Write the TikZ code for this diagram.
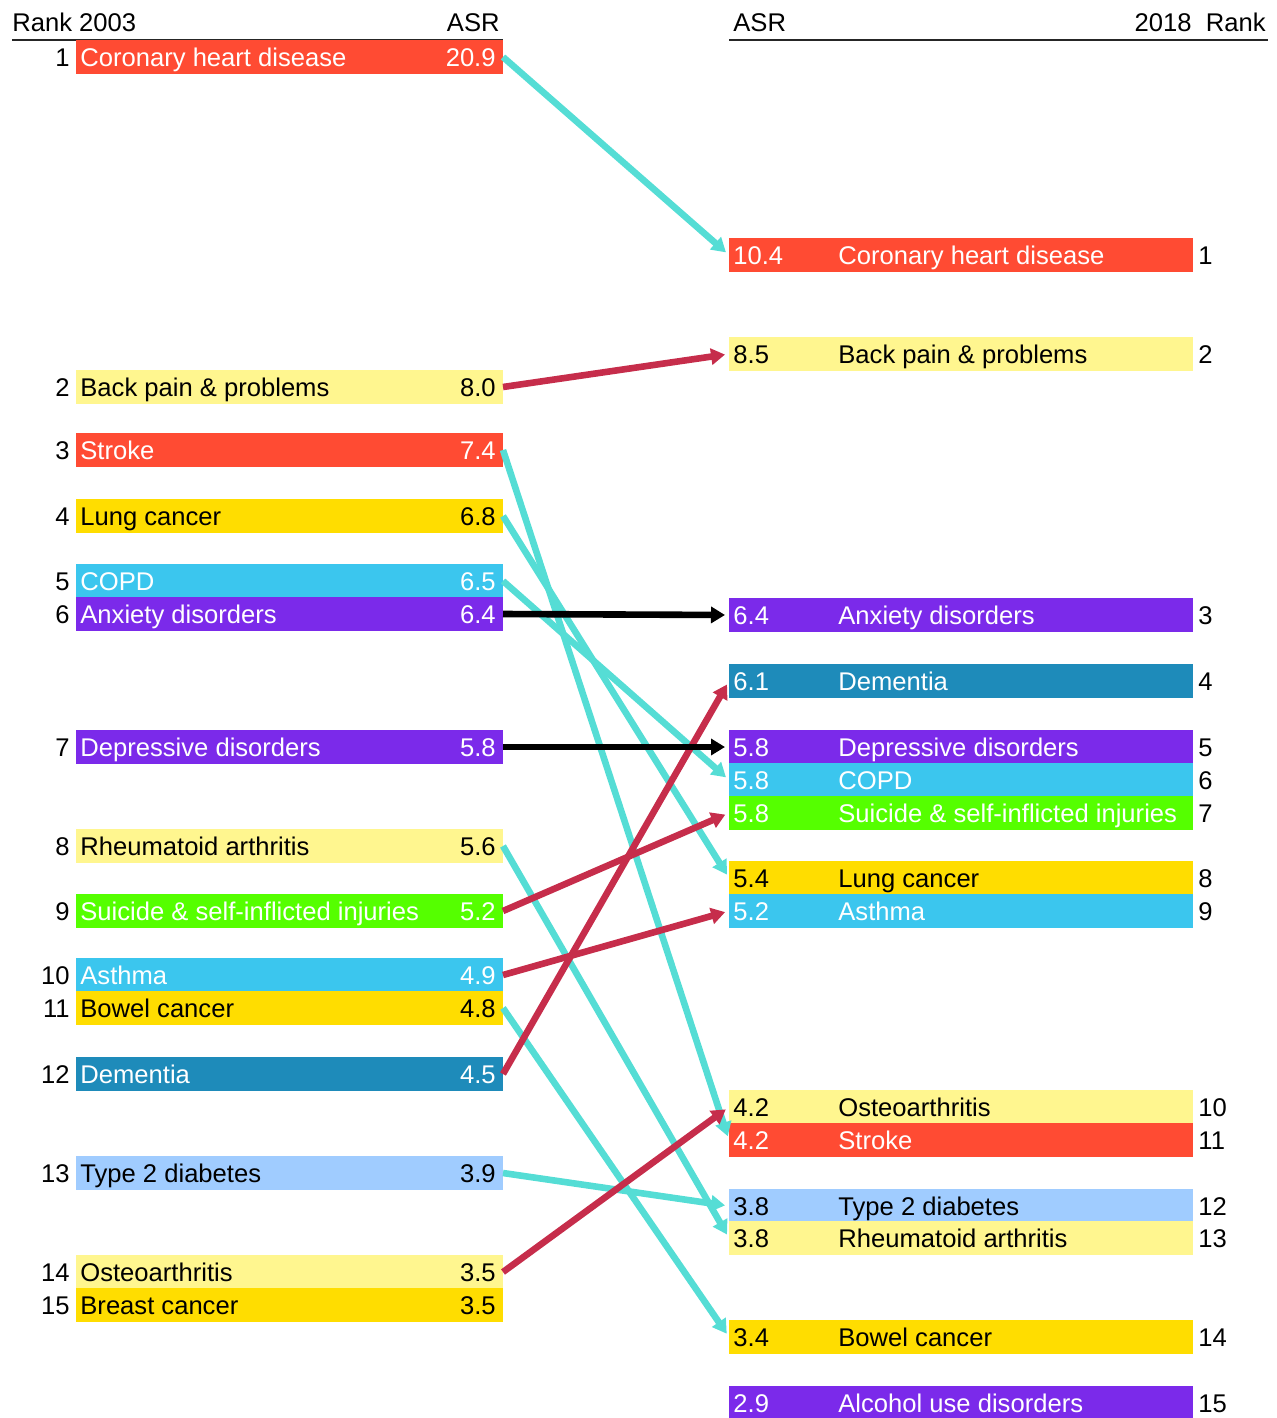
\documentclass[tikz,border=0pt]{standalone}
\usepackage{fontspec}
\setmainfont{Liberation Sans}
\usepackage{xcolor}
\usetikzlibrary{arrows.meta,positioning}
\definecolor{cred}{HTML}{FF4B33}
\definecolor{cpale}{HTML}{FFF68F}
\definecolor{cgold}{HTML}{FFDD00}
\definecolor{csky}{HTML}{3BC6EE}
\definecolor{cviolet}{HTML}{7B2AEA}
\definecolor{cgreen}{HTML}{55FF00}
\definecolor{cteal}{HTML}{1E8BBA}
\definecolor{cice}{HTML}{A0CCFF}
\definecolor{cdown}{HTML}{55DDD5}
\definecolor{cup}{HTML}{C62D4B}
\begin{document}
\begin{tikzpicture}[x=0.5pt,y=-0.5pt,
  font=\fontsize{12.8}{14}\selectfont,
  lbar/.style={anchor=west,minimum width=213.5pt,minimum height=16.8pt,inner sep=0pt,outer sep=0pt},
  rbar/.style={anchor=west,minimum width=232pt,minimum height=16.8pt,inner sep=0pt,outer sep=0pt},
  txt/.style={inner sep=0pt,text height=9.2pt,text depth=0pt},
  rule/.style={line width=1pt,draw=black!85},
  flow/.style={line width=3.3pt,shorten >=2pt,-{Triangle[length=7pt,width=8pt]}},
  dn/.style={flow,draw=cdown},
  up/.style={flow,draw=cup},
  same/.style={flow,draw=black}]
 \useasboundingbox (0,0) rectangle (1276,1418);
 % headers
 \node[txt,anchor=west] (hl1) at (12,22) {Rank 2003};
 \node[txt,anchor=east] (hl2) at (500,22) {ASR};
 \node[txt,anchor=west] (hr1) at (733,22) {ASR};
 \node[txt,anchor=east] (hr2) at (1266,22) {2018\ \ Rank};
 \draw[rule] (12,40) -- (503,40);
 \draw[rule] (729,40) -- (1268,40);
 % 2003 column
 \foreach \r/\y/\c/\t/\n/\v in {
   1/57/cred/white/Coronary heart disease/20.9,
   2/387/cpale/black/Back pain \& problems/8.0,
   3/450/cred/white/Stroke/7.4,
   4/516/cgold/black/Lung cancer/6.8,
   5/581/csky/white/COPD/6.5,
   6/614/cviolet/white/Anxiety disorders/6.4,
   7/747/cviolet/white/Depressive disorders/5.8,
   8/846/cpale/black/Rheumatoid arthritis/5.6,
   9/911/cgreen/white/Suicide \& self-inflicted injuries/5.2,
   10/975/csky/white/Asthma/4.9,
   11/1008/cgold/black/Bowel cancer/4.8,
   12/1074/cteal/white/Dementia/4.5,
   13/1173/cice/black/Type 2 diabetes/3.9,
   14/1272/cpale/black/Osteoarthritis/3.5,
   15/1305/cgold/black/Breast cancer/3.5}{
   \node[lbar,fill=\c] (L\r) at (76,\y) {};
   \node[txt,anchor=west,text=\t] at ([xshift=2pt]L\r.west) {\n};
   \node[txt,anchor=east,text=\t] at ([xshift=-3.5pt]L\r.east) {\v};
   \node[txt,anchor=east] at ([xshift=-3pt]L\r.west) {\r};
 }
 % 2018 column
 \foreach \r/\y/\c/\t/\v/\n in {
   1/255/cred/white/10.4/Coronary heart disease,
   2/354/cpale/black/8.5/Back pain \& problems,
   3/615/cviolet/white/6.4/Anxiety disorders,
   4/681/cteal/white/6.1/Dementia,
   5/747/cviolet/white/5.8/Depressive disorders,
   6/780/csky/white/5.8/COPD,
   7/813/cgreen/white/5.8/Suicide \& self-inflicted injuries,
   8/878/cgold/black/5.4/Lung cancer,
   9/911/csky/white/5.2/Asthma,
   10/1107/cpale/black/4.2/Osteoarthritis,
   11/1140/cred/white/4.2/Stroke,
   12/1206/cice/black/3.8/Type 2 diabetes,
   13/1238/cpale/black/3.8/Rheumatoid arthritis,
   14/1337/cgold/black/3.4/Bowel cancer,
   15/1403/cviolet/white/2.9/Alcohol use disorders}{
   \node[rbar,fill=\c] (R\r) at (729,\y) {};
   \node[txt,anchor=west,text=\t] at ([xshift=2pt]R\r.west) {\v};
   \node[txt,anchor=west,text=\t] at ([xshift=54.5pt]R\r.west) {\n};
   \node[txt,anchor=west] at ([xshift=2.5pt]R\r.east) {\r};
 }
 % rank changes
 \draw[dn] (L1.east) -- (R1.west);
 \draw[up] (L2.east) -- (R2.west);
 \draw[dn] (L3.east) -- (R11.west);
 \draw[dn] (L4.east) -- (R8.west);
 \draw[dn] (L5.east) -- (R6.west);
 \draw[dn] (L8.east) -- (R13.west);
 \draw[dn] (L11.east) -- (R14.west);
 \draw[dn] (L13.east) -- (R12.west);
 \draw[up] (L9.east) -- (R7.west);
 \draw[up] (L10.east) -- (R9.west);
 \draw[up] (L12.east) -- (R4.west);
 \draw[up] (L14.east) -- (R10.west);
 \draw[same] (L6.east) -- (R3.west);
 \draw[same] (L7.east) -- (R5.west);
\end{tikzpicture}
\end{document}
